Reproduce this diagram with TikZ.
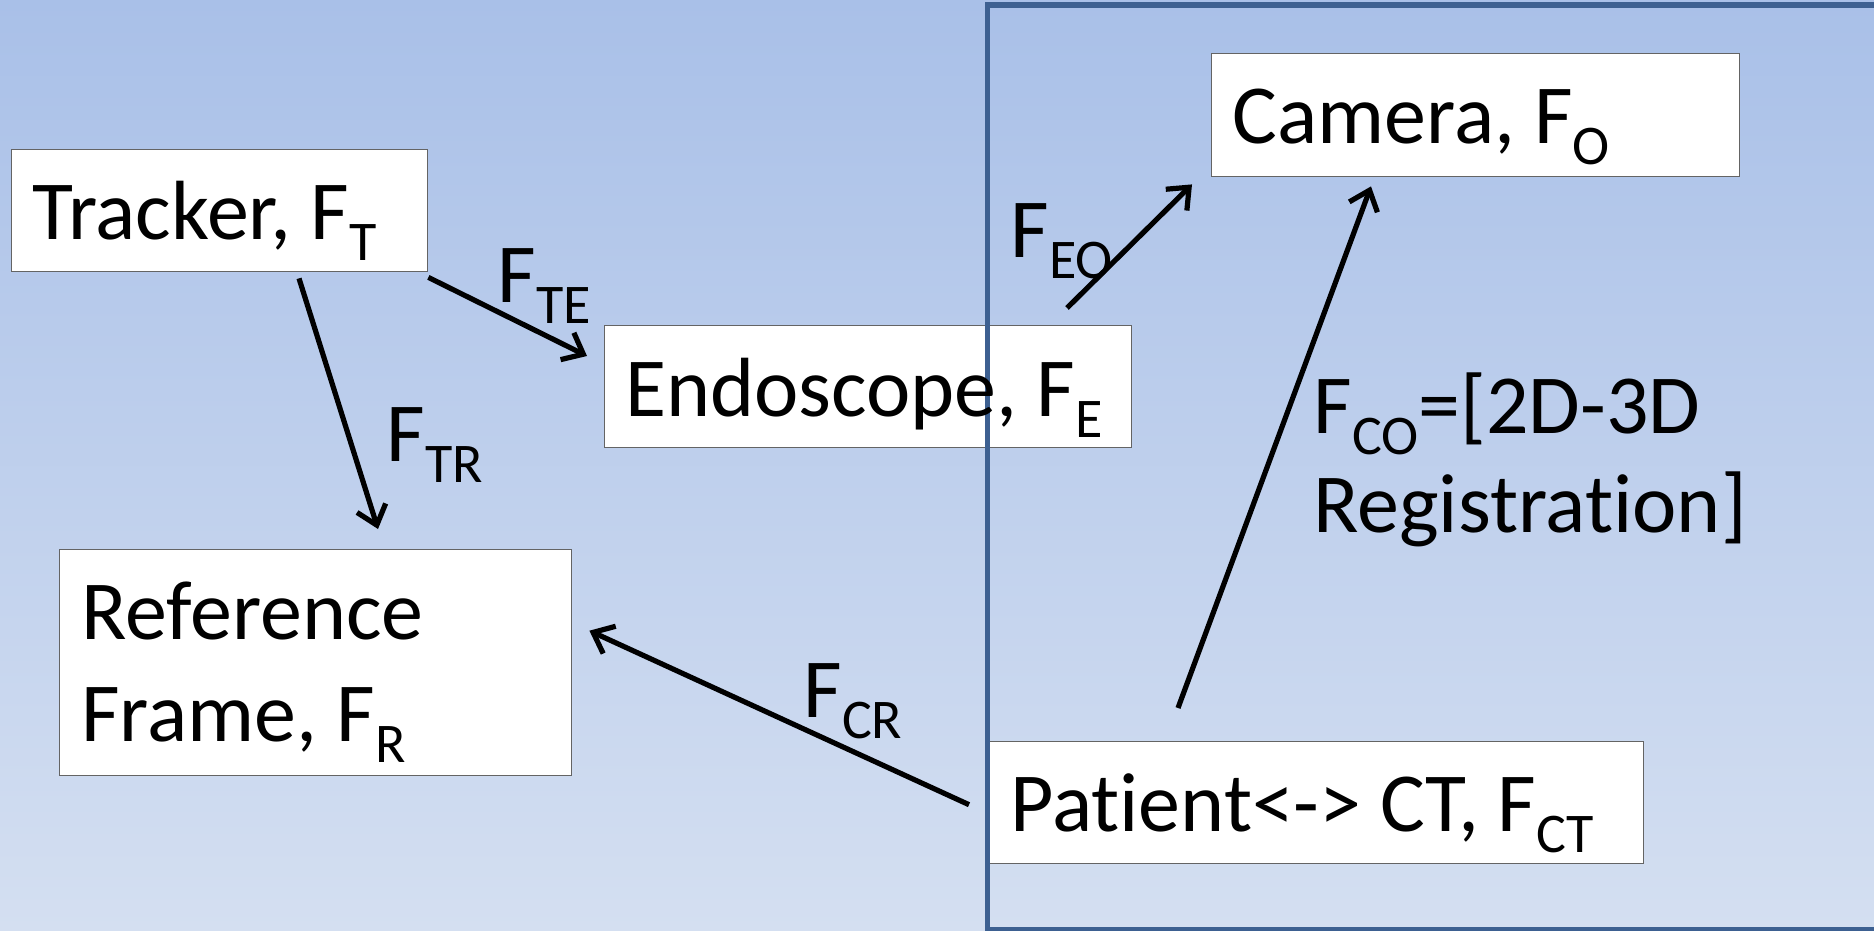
\documentclass[tikz,border=0pt]{standalone}
\usepackage{fontspec}
\setmainfont{Carlito}
\usetikzlibrary{arrows.meta,calc}
\definecolor{bgtop}{RGB}{169,192,232}
\definecolor{bgbot}{RGB}{212,223,241}
\definecolor{framecol}{RGB}{61,96,145}
\definecolor{boxline}{RGB}{100,100,100}
\newcommand\sbs[1]{\raisebox{-10.5pt}{\fontsize{28}{30}\selectfont #1}}
\begin{document}
\begin{tikzpicture}[x=0.5pt,y=-0.5pt,
  box/.style={draw=boxline, fill=white, line width=0.7pt, inner sep=0pt, anchor=north west},
  txt/.style={anchor=base west, inner sep=0pt, font=\fontsize{42}{51}\selectfont},
  conn/.style={line width=2.6pt, -{Straight Barb[length=9pt,width=15pt,line width=2.6pt]}}]
\shade[top color=bgtop, bottom color=bgbot] (0,0) rectangle (1874,931);
\useasboundingbox (0,0) rectangle (1874,931);
% boxes
\node[box, minimum width=208pt, minimum height=61pt] (tracker) at (11,149) {};
\node[box, minimum width=263.5pt, minimum height=61pt] (endo) at (604,325) {};
\node[box, minimum width=264pt, minimum height=61.5pt] (camera) at (1211,53) {};
\node[box, minimum width=256pt, minimum height=113pt] (ref) at (59,549) {};
\node[box, minimum width=328pt, minimum height=61pt] (patient) at (987,741) {};
% frame
\draw[framecol, line width=2.6pt] (1900,5) -- (987.5,5) -- (987.5,929.5) -- (1900,929.5);
% texts
\node[txt] (trackertxt) at (32,239) {Tracker, F\sbs{T}};
\node[txt] (endotxt) at (625,416) {Endoscope, F\sbs{E}};
\node[txt] (cameratxt) at (1232,143) {Camera, F\sbs{O}};
\node[txt] (reftxta) at (81,639) {Reference};
\node[txt] (reftxtb) at (81,741) {Frame, F\sbs{R}};
\node[txt] (patienttxt) at (1010,831) {Pat\kern0pt ient<-> CT, F\sbs{CT}};
\node[txt] (lte) at (497,302) {F\sbs{TE}};
\node[txt] (ltr) at (386,461) {F\sbs{TR}};
\node[txt] (leo) at (1010,257) {F\sbs{EO}};
\node[txt] (lcr) at (803,717) {F\sbs{CR}};
\node[txt] (lcoa) at (1313,433) {F\sbs{CO}=[2D-3D};
\node[txt] (lcob) at (1313,532) {Registrat\kern0pt ion]};
% connectors
\draw[conn] ($(tracker.south east)+(0,5)$) -- ($(endo.north west)+(-17,31)$);
\draw[conn] ($(tracker.south west)+(288,6)$) -- ($(ref.north west)+(319,-20)$);
\draw[conn] ($(endo.north west)+(463,-17)$) -- ($(camera.south west)+(-19,7)$);
\draw[conn] ($(patient.north west)+(191,-33)$) -- ($(camera.south west)+(160,9)$);
\draw[conn] ($(patient.west)+(-18,2)$) -- ($(ref.east)+(17,-32)$);
\end{tikzpicture}
\end{document}
